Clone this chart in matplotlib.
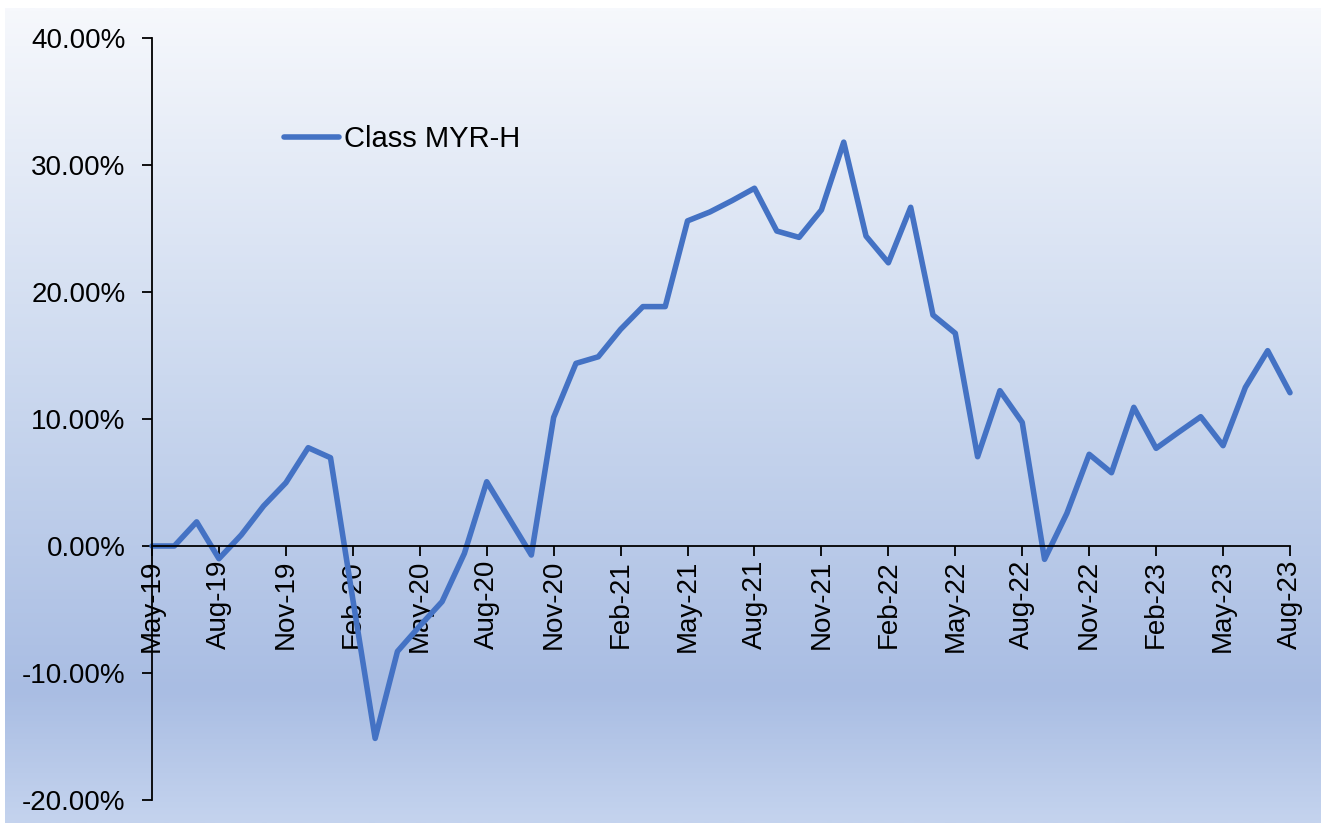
import numpy as np
import matplotlib
matplotlib.use("Agg")
import matplotlib.pyplot as plt
from matplotlib.colors import LinearSegmentedColormap
from matplotlib.ticker import FuncFormatter, FixedLocator

plt.rcParams["font.family"] = ["Liberation Sans", "DejaVu Sans"]

# Monthly cumulative return, May-19 .. Aug-23 (percent)
months = [
    "May-19", "Jun-19", "Jul-19", "Aug-19", "Sep-19", "Oct-19", "Nov-19", "Dec-19",
    "Jan-20", "Feb-20", "Mar-20", "Apr-20", "May-20", "Jun-20", "Jul-20", "Aug-20",
    "Sep-20", "Oct-20", "Nov-20", "Dec-20", "Jan-21", "Feb-21", "Mar-21", "Apr-21",
    "May-21", "Jun-21", "Jul-21", "Aug-21", "Sep-21", "Oct-21", "Nov-21", "Dec-21",
    "Jan-22", "Feb-22", "Mar-22", "Apr-22", "May-22", "Jun-22", "Jul-22", "Aug-22",
    "Sep-22", "Oct-22", "Nov-22", "Dec-22", "Jan-23", "Feb-23", "Mar-23", "Apr-23",
    "May-23", "Jun-23", "Jul-23", "Aug-23",
]
class_myr_h = [
    0.00, 0.00, 1.90, -1.00, 0.87, 3.15, 4.98, 7.74,
    6.95, -4.20, -15.15, -8.30, -6.30, -4.38, -0.58, 5.06,
    2.18, -0.71, 10.13, 14.38, 14.90, 17.06, 18.85, 18.85,
    25.60, 26.30, 27.20, 28.17, 24.80, 24.30, 26.46, 31.80,
    24.40, 22.30, 26.67, 18.19, 16.75, 7.03, 12.23, 9.73,
    -1.05, 2.57, 7.22, 5.77, 10.92, 7.69, 8.95, 10.18,
    7.90, 12.49, 15.38, 12.07,
]
series_name = "Class MYR-H"
y_ticks = [-20, -10, 0, 10, 20, 30, 40]

W, H = 1328, 823
fig = plt.figure(figsize=(W / 100, H / 100), dpi=100)
fig.patch.set_facecolor("white")

# Vertical gradient panel behind the plot
bg = fig.add_axes([0, 0, 1, 1], zorder=-10)
bg.set_xlim(0, W)
bg.set_ylim(H, 0)
bg.axis("off")
grad_cmap = LinearSegmentedColormap.from_list(
    "panel",
    [(0.0, "#F6F8FC"), (0.45, "#CCD9EF"), (0.84, "#A9BDE3"), (1.0, "#C4D3EE")],
)
grad = np.linspace(0, 1, 400).reshape(-1, 1)
bg.imshow(grad, cmap=grad_cmap, aspect="auto", extent=(5, 1321, 823, 8),
          interpolation="bilinear")

ax = fig.add_axes([152 / W, (H - 800) / H, (1290 - 152) / W, (800 - 38) / H])
ax.set_facecolor("none")

# x axis crosses at 0 %
for s in ("top", "right"):
    ax.spines[s].set_visible(False)
ax.spines["bottom"].set_position(("data", 0))
for s in ("left", "bottom"):
    ax.spines[s].set_linewidth(1.3)
    ax.spines[s].set_color("black")

x = np.arange(len(months))
ax.plot(x, class_myr_h, color="#4472C4", lw=4.0, label=series_name,
        solid_joinstyle="round", solid_capstyle="round", clip_on=False)

ax.set_xlim(0, len(months) - 1)
ax.set_ylim(-20, 40)
ax.yaxis.set_major_locator(FixedLocator(y_ticks))
ax.yaxis.set_major_formatter(FuncFormatter(lambda v, p: f"{v:.2f}%"))

tick_pos = x[::3]
ax.set_xticks(tick_pos)
ax.set_xticklabels([months[i] for i in tick_pos])

ax.tick_params(axis="y", direction="out", length=7, width=1.3, pad=12,
               labelsize=20, colors="black")
ax.tick_params(axis="x", direction="out", length=7, width=1.3, pad=3,
               labelsize=20, colors="black", labelrotation=90)
for lbl in ax.get_xticklabels():
    lbl.set_ha("center")
    lbl.set_va("top")

fig.legend(loc="center left", bbox_to_anchor=(284 / W, (H - 139) / H),
           frameon=False, fontsize=21, handlelength=1.9, handletextpad=0.15,
           borderpad=0, borderaxespad=0)

fig.savefig("out.png", dpi=100)
